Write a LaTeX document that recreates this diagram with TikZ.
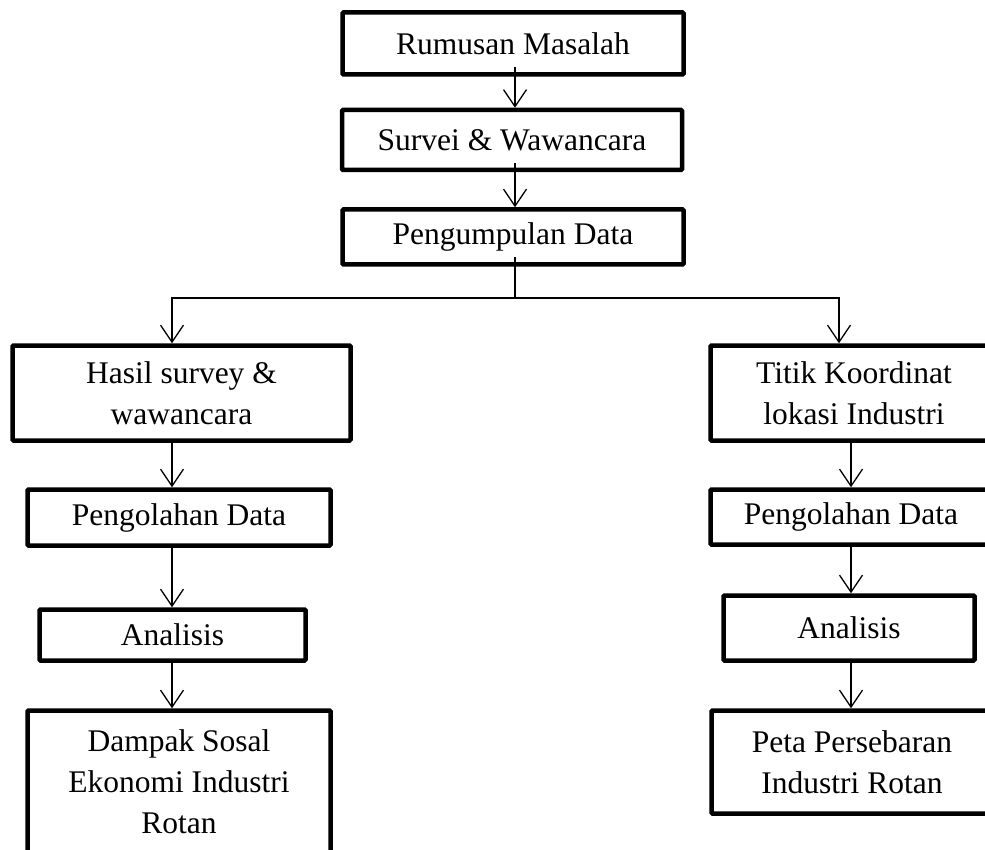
\documentclass[tikz,border=0pt]{standalone}
\usepackage{fontspec}
\setmainfont{Liberation Serif}
\usetikzlibrary{arrows.meta,positioning}
\tikzstyle{kotak}=[draw=black,line width=4.5pt,rounded corners=1pt,align=center,inner sep=0pt,font=\fontsize{31.5}{41}\selectfont]
\tikzstyle{panah}=[line width=1.3pt,-{Straight Barb[length=17pt,width=23pt]}]

\begin{document}
\begin{tikzpicture}[x=1pt,y=-1pt]
  \useasboundingbox (0,0) rectangle (985,850);
  \clip (0,0) rectangle (985,850);
  \node[kotak,minimum width=341,minimum height=62] (rumusan) at (513,43.5) {Rumusan Masalah};
  \node[kotak,minimum width=340,minimum height=60] (survei) at (512,140) {Survei \& Wawancara};
  \node[kotak,minimum width=341,minimum height=55] (kumpul) at (513,237) {Pengumpulan Data};
  \node[kotak,minimum width=338,minimum height=95] (hasil) at (181.5,393) {Hasil survey \&\\ wawancara};
  \node[kotak,minimum width=303,minimum height=56] (olahkiri) at (179,517.5) {Pengolahan Data};
  \node[kotak,minimum width=266,minimum height=51] (analisiskiri) at (172.5,635) {Analisis};
  \node[kotak,minimum width=303,minimum height=142] (dampak) at (179,781.5) {Dampak Sosal\\ Ekonomi Industri\\ Rotan};
  \node[kotak,minimum width=287,minimum height=95] (titik) at (854,393) {Titik Koordinat\\ lokasi Industri};
  \node[kotak,minimum width=281,minimum height=55] (olahkanan) at (851,517) {Pengolahan Data};
  \node[kotak,minimum width=251,minimum height=65] (analisiskanan) at (849,628) {Analisis};
  \node[kotak,minimum width=281,minimum height=103] (peta) at (852,762) {Peta Persebaran\\ Industri Rotan};
  \coordinate (tengah) at (515,0);
  \coordinate (kiri) at (172,0);
  \coordinate (kanan) at (851,0);
  \coordinate (atas) at (839,0);
  \coordinate (bagi) at (515,298);
  \draw[panah] (rumusan.south -| tengah) ++(0,-10) -- (survei.north -| tengah);
  \draw[panah] (survei.south -| tengah) ++(0,-9) -- (kumpul.north -| tengah);
  \draw[line width=1.3pt] (kumpul.south -| tengah) ++(0,-10) -- (bagi);
  \draw[panah] (bagi) -| (hasil.north -| kiri);
  \draw[panah] (bagi) -| (titik.north -| atas);
  \draw[panah] (hasil.south -| kiri) -- (olahkiri.north -| kiri);
  \draw[panah] (olahkiri.south -| kiri) -- (analisiskiri.north -| kiri);
  \draw[panah] (analisiskiri.south -| kiri) -- (dampak.north -| kiri);
  \draw[panah] (titik.south -| kanan) -- (olahkanan.north -| kanan);
  \draw[panah] (olahkanan.south -| kanan) -- (analisiskanan.north -| kanan);
  \draw[panah] (analisiskanan.south -| kanan) -- (peta.north -| kanan);
\end{tikzpicture}
\end{document}
